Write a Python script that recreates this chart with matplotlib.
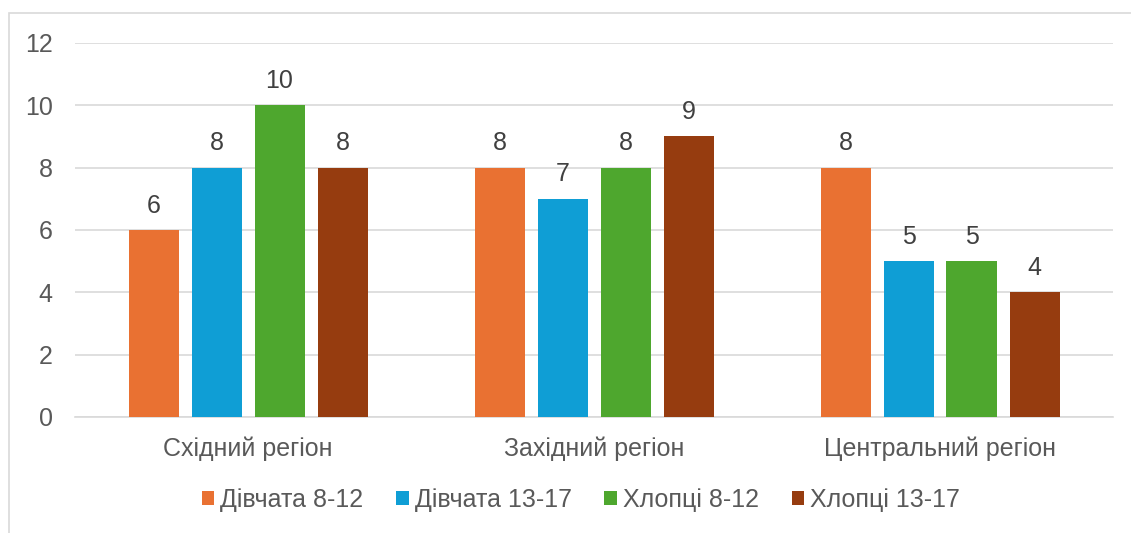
import matplotlib.pyplot as plt
import numpy as np
from matplotlib.patches import Rectangle

regiones = ["Східний регіон", "Західний регіон", "Центральний регіон"]
series = ["Дівчата 8-12", "Дівчата 13-17", "Хлопці 8-12", "Хлопці 13-17"]
divchata_8_12 = [6, 8, 8]
divchata_13_17 = [8, 7, 5]
khloptsi_8_12 = [10, 8, 5]
khloptsi_13_17 = [8, 9, 4]
colores = ["#E97132", "#0F9ED5", "#4EA72E", "#963C0F"]
marcas_y = [0, 2, 4, 6, 8, 10, 12]

plt.rcParams["font.family"] = ["Liberation Sans", "DejaVu Sans"]
texto = "#595959"

fig = plt.figure(figsize=(11.31, 5.33), dpi=100)
ax = fig.add_axes([75 / 1131, 1 - 417 / 533, 1038 / 1131, 374 / 533])

# marco del gráfico
fig.patches.append(Rectangle((9 / 1131, -0.1), 1.2, 1 - 13 / 533 + 0.1,
                             transform=fig.transFigure, fill=False,
                             edgecolor="#D9D9D9", linewidth=1.2))

x = np.arange(len(regiones))
paso = 63 / 346
ancho = 50 / 346
valores = [divchata_8_12, divchata_13_17, khloptsi_8_12, khloptsi_13_17]
for i, (nombre, datos, color) in enumerate(zip(series, valores, colores)):
    pos = x + (i - 1.5) * paso
    barras = ax.bar(pos, datos, ancho, color=color, label=nombre, zorder=3)
    for barra, v in zip(barras, datos):
        ax.text(barra.get_x() + barra.get_width() / 2, v + 0.4, str(v),
                ha="center", va="bottom", fontsize=18, color="#404040")

ax.set_xlim(-0.5, 2.5)
ax.set_ylim(0, 12)
ax.set_yticks(marcas_y)
ax.set_xticks(x)
ax.set_xticklabels(regiones)
ax.tick_params(axis="both", length=0, labelsize=18, labelcolor=texto)
ax.tick_params(axis="y", pad=16)
ax.tick_params(axis="x", pad=14)
ax.grid(axis="y", color="#D9D9D9", linewidth=1.2, zorder=0)
for lado in ["top", "right", "left"]:
    ax.spines[lado].set_visible(False)
ax.spines["bottom"].set_color("#D9D9D9")
ax.spines["bottom"].set_linewidth(1.2)

ax.legend(loc="center", bbox_to_anchor=(581 / 1131, 1 - 500 / 533), bbox_transform=fig.transFigure,
          ncol=4, frameon=False, fontsize=18, labelcolor=texto,
          handlelength=0.5, handleheight=0.5, handletextpad=0.25, columnspacing=1.3)

fig.savefig("out.png", dpi=100)
